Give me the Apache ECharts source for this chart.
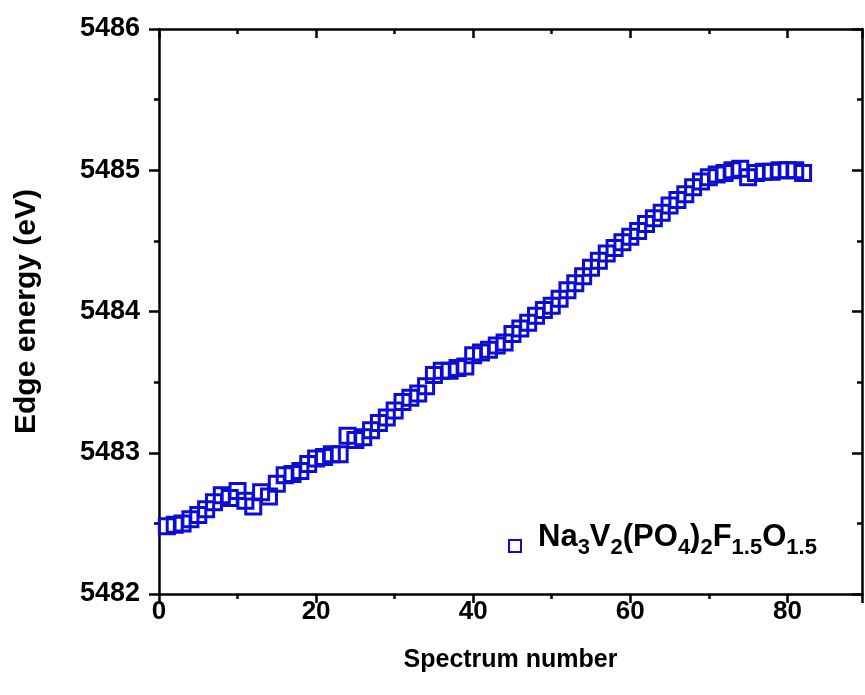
<!DOCTYPE html>
<html>
<head>
<meta charset="utf-8">
<script src="https://cdn.jsdelivr.net/npm/echarts@6/dist/echarts.min.js"></script>
<style>
html,body{margin:0;padding:0;background:#fff;}
#chart{width:865px;height:695px;}
</style>
</head>
<body>
<div id="chart"></div>
<script>
// Data
const spectrumNumbers = [1,2,3,4,5,6,7,8,9,10,11,12,13,14,15,16,17,18,19,20,21,22,23,24,25,26,27,28,29,30,31,32,33,34,35,36,37,38,39,40,41,42,43,44,45,46,47,48,49,50,51,52,53,54,55,56,57,58,59,60,61,62,63,64,65,66,67,68,69,70,71,72,73,74,75,76,77,78,79,80,81,82];
const edgeEnergy = [
  5482.48,5482.49,5482.50,5482.53,5482.56,5482.60,5482.65,5482.70,5482.68,5482.73,
  5482.66,5482.62,5482.72,5482.69,5482.78,5482.84,5482.85,5482.87,5482.92,5482.96,
  5482.97,5482.99,5482.99,5483.12,5483.09,5483.11,5483.16,5483.21,5483.25,5483.30,
  5483.36,5483.39,5483.42,5483.47,5483.55,5483.58,5483.58,5483.60,5483.61,5483.69,
  5483.71,5483.73,5483.76,5483.78,5483.84,5483.88,5483.92,5483.97,5484.01,5484.04,
  5484.09,5484.15,5484.20,5484.25,5484.31,5484.36,5484.41,5484.45,5484.49,5484.53,
  5484.57,5484.62,5484.66,5484.70,5484.75,5484.79,5484.83,5484.88,5484.92,5484.95,
  5484.97,5484.98,5485.00,5485.01,5484.95,5484.98,5484.99,5484.99,5485.00,5485.00,
  5485.00,5484.98
];
const seriesName = 'Na3V2(PO4)2F1.5O1.5';
const xTitle = 'Spectrum number';
const yTitle = 'Edge energy (eV)';
const xMin = 0, xMax = 89.5, xInterval = 20;
const yMin = 5482, yMax = 5486, yInterval = 1;

const points = spectrumNumbers.map((x, i) => [x, edgeEnergy[i]]);
const blue = '#0c0cd4';
const font = 'Liberation Sans, Arial, sans-serif';

const chart = echarts.init(document.getElementById('chart'), null, {renderer: 'canvas'});

const baseAxisLine = {show: true, lineStyle: {color: '#000', width: 2.5}};
function xAxisCfg(pos, outside) {
  return {
    type: 'value', position: pos, min: xMin, max: xMax, interval: xInterval,
    axisLine: Object.assign({onZero: false}, baseAxisLine),
    axisTick: {show: true, inside: !outside, length: 9, lineStyle: {color: '#000', width: 2.5}},
    minorTick: {show: true, splitNumber: 2, length: 5, lineStyle: {color: '#000', width: 2.5}},
    splitLine: {show: false},
    axisLabel: {show: outside, showMaxLabel: false, color: '#000', fontFamily: font, fontWeight: 'bold', fontSize: 26, margin: 5,
      formatter: v => String(v)},
    name: outside ? xTitle : '', nameLocation: 'middle', nameGap: 54,
    nameTextStyle: {color: '#000', fontFamily: font, fontWeight: 'bold', fontSize: 25}
  };
}
function yAxisCfg(pos, outside) {
  return {
    type: 'value', position: pos, min: yMin, max: yMax, interval: yInterval,
    axisLine: Object.assign({onZero: false}, baseAxisLine),
    axisTick: {show: true, inside: !outside, length: 10, lineStyle: {color: '#000', width: 2.5}},
    minorTick: {show: true, splitNumber: 2, length: 5, lineStyle: {color: '#000', width: 2.5}},
    splitLine: {show: false},
    axisLabel: {show: outside, color: '#000', fontFamily: font, fontWeight: 'bold', fontSize: 27, margin: 19,
      formatter: v => String(v)},
    name: outside ? yTitle : '', nameLocation: 'middle', nameGap: 117,
    nameTextStyle: {color: '#000', fontFamily: font, fontWeight: 'bold', fontSize: 30}
  };
}

chart.setOption({
  backgroundColor: '#fff',
  animation: false,
  grid: {left: 159, right: 3, top: 29, bottom: 101, containLabel: false},
  xAxis: [xAxisCfg('bottom', true), xAxisCfg('top', false)],
  yAxis: [yAxisCfg('left', true), yAxisCfg('right', false)],
  legend: {
    left: 508, top: 522, padding: 0, orient: 'horizontal',
    itemWidth: 12, itemHeight: 12, itemGap: 10,
    icon: 'rect',
    itemStyle: {color: 'rgba(255,255,255,0)', borderColor: blue, borderWidth: 2},
    data: [seriesName],
    formatter: function () {
      return '{sp| }{b|Na}{s|3}{b|V}{s|2}{b|(PO}{s|4}{b|)}{s|2}{b|F}{s|1.5}{b|O}{s|1.5}';
    },
    textStyle: {
      rich: {
        sp: {width: 12, lineHeight: 48, fontSize: 12, verticalAlign: 'top'},
        b: {fontFamily: font, fontWeight: 'bold', fontSize: 31, color: '#000', verticalAlign: 'top'},
        s: {fontFamily: font, fontWeight: 'bold', fontSize: 22, color: '#000', verticalAlign: 'top', padding: [15, 0, 0, 0]}
      }
    }
  },
  series: [{
    name: seriesName,
    type: 'scatter',
    xAxisIndex: 0, yAxisIndex: 0,
    symbol: 'rect', symbolSize: 15,
    itemStyle: {color: 'rgba(255,255,255,0)', borderColor: blue, borderWidth: 3, opacity: 1},
    data: points
  }]
});
</script>
</body>
</html>
